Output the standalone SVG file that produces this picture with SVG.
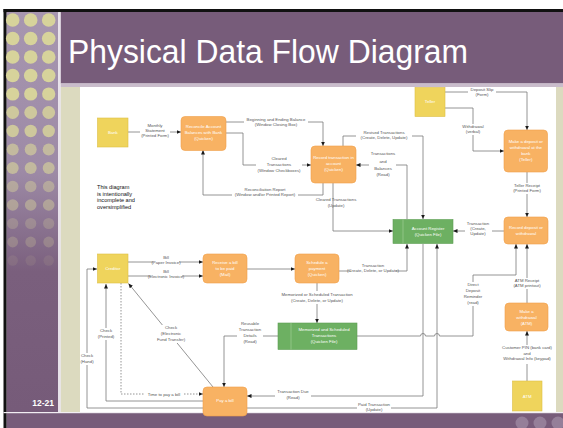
<svg xmlns="http://www.w3.org/2000/svg" width="563" height="428" viewBox="0 0 563 428">
<defs>
<linearGradient id="sb" x1="0" y1="12" x2="0" y2="412" gradientUnits="userSpaceOnUse">
<stop offset="0" stop-color="#a796b0"/>
<stop offset="0.4" stop-color="#9d8aa6"/>
<stop offset="0.65" stop-color="#7a5f7d"/>
<stop offset="1" stop-color="#765b79"/>
</linearGradient>
<marker id="a" viewBox="0 0 10 10" refX="10" refY="5" markerWidth="4.5" markerHeight="4.5" markerUnits="userSpaceOnUse" orient="auto">
<path d="M0,0.5 L10,5 L0,9.5 z" fill="#1a1a1a"/>
</marker>
<style>
.ln{fill:none;stroke:#7a7a7a;stroke-width:0.8}
.dl{fill:none;stroke:#7a7a7a;stroke-width:0.8;stroke-dasharray:1.5 1.5}
.lb{font-family:"Liberation Sans",Arial,sans-serif;font-size:4.3px;fill:#555;text-anchor:middle}
.nt{font-family:"Liberation Sans",Arial,sans-serif;font-size:4.3px;fill:#fff;text-anchor:middle}
.pr{fill:#f8b263;stroke:#f0a04a;stroke-width:0.6}
.ext{fill:#efd45c;stroke:#dcbf45;stroke-width:0.6}
.st{fill:#6db062;stroke:#5e9e54;stroke-width:0.6}
.bg{fill:#fff}
.dot{fill:#d7d39b}
</style>
</defs>

<!-- slide frame -->
<rect x="0" y="0" width="563" height="428" fill="#fff"/>
<rect x="3.5" y="9" width="560" height="3.2" fill="#111"/>
<rect x="3.5" y="9" width="3.2" height="419" fill="#111"/>
<rect x="6.7" y="12" width="51.5" height="401" fill="url(#sb)"/>
<g id="sidebar-dots">
<g opacity="1">
<circle class="dot" cx="12.7" cy="20" r="6.8"/><circle class="dot" cx="30.7" cy="20" r="6.8"/><circle class="dot" cx="48.7" cy="20" r="6.8"/>
<circle class="dot" cx="12.7" cy="38.5" r="6.8"/><circle class="dot" cx="30.7" cy="38.5" r="6.8"/><circle class="dot" cx="48.7" cy="38.5" r="6.8"/>
<circle class="dot" cx="12.7" cy="57" r="6.8"/><circle class="dot" cx="30.7" cy="57" r="6.8"/><circle class="dot" cx="48.7" cy="57" r="6.8"/>
<circle class="dot" cx="12.7" cy="75.5" r="6.8"/><circle class="dot" cx="30.7" cy="75.5" r="6.8"/><circle class="dot" cx="48.7" cy="75.5" r="6.8"/>
<circle class="dot" cx="12.7" cy="94" r="6.6"/><circle class="dot" cx="30.7" cy="94" r="6.6"/><circle class="dot" cx="48.7" cy="94" r="6.6"/>
</g>
<g opacity="0.85">
<circle class="dot" cx="12.7" cy="112.5" r="6.4"/><circle class="dot" cx="30.7" cy="112.5" r="6.4"/><circle class="dot" cx="48.7" cy="112.5" r="6.4"/>
<circle class="dot" cx="12.7" cy="131" r="6.2"/><circle class="dot" cx="30.7" cy="131" r="6.2"/><circle class="dot" cx="48.7" cy="131" r="6.2"/>
</g>
<g opacity="0.65">
<circle class="dot" cx="12.7" cy="149.5" r="6"/><circle class="dot" cx="30.7" cy="149.5" r="6"/><circle class="dot" cx="48.7" cy="149.5" r="6"/>
<circle class="dot" cx="12.7" cy="168" r="6"/><circle class="dot" cx="30.7" cy="168" r="6"/><circle class="dot" cx="48.7" cy="168" r="6"/>
</g>
<g opacity="0.45">
<circle class="dot" cx="12.7" cy="186.5" r="5.8"/><circle class="dot" cx="30.7" cy="186.5" r="5.8"/><circle class="dot" cx="48.7" cy="186.5" r="5.8"/>
<circle class="dot" cx="12.7" cy="205" r="5.8"/><circle class="dot" cx="30.7" cy="205" r="5.8"/><circle class="dot" cx="48.7" cy="205" r="5.8"/>
</g>
<g opacity="0.25">
<circle class="dot" cx="12.7" cy="223.5" r="5.6"/><circle class="dot" cx="30.7" cy="223.5" r="5.6"/><circle class="dot" cx="48.7" cy="223.5" r="5.6"/>
<circle class="dot" cx="12.7" cy="242" r="5.4"/><circle class="dot" cx="30.7" cy="242" r="5.4"/><circle class="dot" cx="48.7" cy="242" r="5.4"/>
</g>
<g opacity="0.1">
<circle class="dot" cx="12.7" cy="260.5" r="5.2"/><circle class="dot" cx="30.7" cy="260.5" r="5.2"/><circle class="dot" cx="48.7" cy="260.5" r="5.2"/>
</g>
</g>
<rect x="58.2" y="12" width="2.6" height="401" fill="#e8e2ea"/>
<rect x="60.8" y="12" width="502.2" height="71.5" fill="#775c7a"/>
<rect x="60.8" y="83.5" width="502.2" height="3.5" fill="#c9bccb"/>
<rect x="60.8" y="87" width="502.2" height="325" fill="#dcdabf"/>
<rect x="80" y="87" width="476" height="325" fill="#fff"/>
<rect x="3.5" y="412" width="559.5" height="1.2" fill="#f2eef3"/>
<rect x="6.7" y="413.2" width="556.3" height="14.8" fill="#775c7a"/>
<g fill="#957f99">
<circle cx="522" cy="423" r="6.5"/><circle cx="540" cy="423" r="6.5"/><circle cx="558" cy="423" r="6.5"/>
</g>
<text x="68" y="63" font-family="Liberation Sans, Arial, sans-serif" font-size="34" fill="#fff" textLength="400" lengthAdjust="spacingAndGlyphs">Physical Data Flow Diagram</text>
<text x="54" y="406" font-family="Liberation Sans, Arial, sans-serif" font-size="8.5" font-weight="bold" fill="#fff" text-anchor="end">12-21</text>

<!-- connectors -->
<g id="connectors">
<path class="ln" d="M128,132 H181" marker-end="url(#a)"/>
<path class="ln" d="M226,122 H323 V146" marker-end="url(#a)"/>
<path class="ln" d="M226,133 H243 V165 H311" marker-end="url(#a)"/>
<path class="ln" d="M323,183 V195 H203 V150" marker-end="url(#a)"/>
<path class="ln" d="M343,146 V136 H423 V219" marker-end="url(#a)"/>
<path class="ln" d="M407,219 V165 H356" marker-end="url(#a)"/>
<path class="ln" d="M333,183 V231 H393" marker-end="url(#a)"/>
<path class="ln" d="M445,92 H527 V130" marker-end="url(#a)"/>
<path class="ln" d="M445,108 H473 V151 H504" marker-end="url(#a)"/>
<path class="ln" d="M527,172 V217" marker-end="url(#a)"/>
<path class="ln" d="M504,231 H453" marker-end="url(#a)"/>
<path class="ln" d="M527,303 V244" marker-end="url(#a)"/>
<path class="ln" d="M527,381 V331" marker-end="url(#a)"/>
<path class="ln" d="M357,336 H420.5 A2.5,2.5 0 0 1 425.5,336 H434.5 A2.5,2.5 0 0 1 439.5,336 H473 V275 H516 V244" marker-end="url(#a)"/>
<path class="ln" d="M128,262 H203" marker-end="url(#a)"/>
<path class="ln" d="M128,276 H203" marker-end="url(#a)"/>
<path class="ln" d="M247,269 H295" marker-end="url(#a)"/>
<path class="ln" d="M339,271 H407 V244" marker-end="url(#a)"/>
<path class="ln" d="M317,283 V323" marker-end="url(#a)"/>
<path class="ln" d="M278,336 H224 V387" marker-end="url(#a)"/>
<path class="ln" d="M423,244 V396 H247" marker-end="url(#a)"/>
<path class="ln" d="M247,408 H437 V244" marker-end="url(#a)"/>
<path class="ln" d="M213,387 L128.5,283.5" marker-end="url(#a)"/>
<path class="ln" d="M203,401 H106 V284" marker-end="url(#a)"/>
<path class="ln" d="M203,408 H87 V269 H97" marker-end="url(#a)"/>
<path class="dl" d="M121,283 V394 H203" marker-end="url(#a)"/>
</g>

<!-- connector labels -->
<g id="labels">
<rect class="bg" x="140" y="123" width="30" height="16"/>
<text class="lb" x="155" y="127">Monthly</text>
<text class="lb" x="155" y="132">Statement</text>
<text class="lb" x="155" y="137">(Printed Form)</text>
<rect class="bg" x="244" y="116" width="64" height="11"/>
<text class="lb" x="276" y="120.5">Beginning and Ending Balance</text>
<text class="lb" x="276" y="125.5">(Window Closing Box)</text>
<rect class="bg" x="256" y="156" width="46" height="17"/>
<text class="lb" x="279" y="160">Cleared</text>
<text class="lb" x="279" y="166">Transactions</text>
<text class="lb" x="279" y="172">(Window Checkboxes)</text>
<rect class="bg" x="232" y="187" width="66" height="11"/>
<text class="lb" x="265" y="191">Reconciliation Report</text>
<text class="lb" x="265" y="196">(Window and/or Printed Report)</text>
<rect class="bg" x="356" y="129" width="56" height="11"/>
<text class="lb" x="384" y="133.5">Revised Transactions</text>
<text class="lb" x="384" y="138.5">(Create, Delete, Update)</text>
<rect class="bg" x="369" y="151" width="27" height="28"/>
<text class="lb" x="383" y="155">Transactions</text>
<text class="lb" x="383" y="163">and</text>
<text class="lb" x="383" y="170">Balances</text>
<text class="lb" x="383" y="176">(Read)</text>
<text class="lb" x="336" y="201">Cleared Transactions</text>
<text class="lb" x="336" y="206.5">(Update)</text>
<rect class="bg" x="468" y="87.5" width="28" height="10"/>
<text class="lb" x="482" y="91">Deposit Slip</text>
<text class="lb" x="482" y="96">(Form)</text>
<rect class="bg" x="461" y="124" width="24" height="11"/>
<text class="lb" x="473" y="128">Withdrawal</text>
<text class="lb" x="473" y="133">(verbal)</text>
<rect class="bg" x="512" y="183" width="30" height="11"/>
<text class="lb" x="527" y="187">Teller Receipt</text>
<text class="lb" x="527" y="192">(Printed Form)</text>
<rect class="bg" x="465" y="221" width="27" height="16"/>
<text class="lb" x="478" y="225">Transaction</text>
<text class="lb" x="478" y="230">(Create,</text>
<text class="lb" x="478" y="235">Update)</text>
<rect class="bg" x="512" y="278" width="30" height="11"/>
<text class="lb" x="527" y="282">ATM Receipt</text>
<text class="lb" x="527" y="287">(ATM printout)</text>
<rect class="bg" x="463" y="282" width="21" height="24"/>
<text class="lb" x="473" y="286">Direct</text>
<text class="lb" x="473" y="292">Deposit</text>
<text class="lb" x="473" y="298">Reminder</text>
<text class="lb" x="473" y="304">(read)</text>
<rect class="bg" x="499" y="345" width="56" height="19"/>
<text class="lb" x="527" y="349">Customer PIN (bank card)</text>
<text class="lb" x="527" y="354.5">and</text>
<text class="lb" x="527" y="360">Withdrawal Info (keypad)</text>
<rect class="bg" x="153" y="255" width="26" height="10"/>
<text class="lb" x="166" y="258.5">Bill</text>
<text class="lb" x="166" y="263.5">(Paper Invoice)</text>
<rect class="bg" x="150" y="269" width="32" height="10"/>
<text class="lb" x="166" y="272.5">Bill</text>
<text class="lb" x="166" y="277.5">(Electronic Invoice)</text>
<rect class="bg" x="351" y="263" width="45" height="11"/>
<text class="lb" x="373" y="267">Transaction</text>
<text class="lb" x="373" y="272">(Create, Delete, or Update)</text>
<rect class="bg" x="276" y="291" width="82" height="13"/>
<text class="lb" x="317" y="295.5">Memorized or Scheduled Transaction</text>
<text class="lb" x="317" y="301.5">(Create, Delete, or Update)</text>
<rect class="bg" x="237" y="321" width="26" height="25"/>
<text class="lb" x="250" y="325">Reusable</text>
<text class="lb" x="250" y="331">Transaction</text>
<text class="lb" x="250" y="337">Details</text>
<text class="lb" x="250" y="343">(Read)</text>
<rect class="bg" x="98" y="328" width="17" height="12"/>
<text class="lb" x="106" y="332">Check</text>
<text class="lb" x="106" y="338">(Printed)</text>
<rect class="bg" x="80.5" y="353" width="13" height="12"/>
<text class="lb" x="87" y="357">Check</text>
<text class="lb" x="87" y="363">(Hand)</text>
<rect class="bg" x="156" y="325" width="31" height="18"/>
<text class="lb" x="171" y="329">Check</text>
<text class="lb" x="171" y="335">(Electronic</text>
<text class="lb" x="171" y="341">Fund Transfer)</text>
<rect class="bg" x="145" y="391" width="38" height="6"/>
<text class="lb" x="164" y="395.5">Time to pay a bill</text>
<rect class="bg" x="275" y="389" width="36" height="11"/>
<text class="lb" x="293" y="393">Transaction Due</text>
<text class="lb" x="293" y="398.5">(Read)</text>
<rect class="bg" x="357" y="402" width="34" height="10"/>
<text class="lb" x="374" y="406">Paid Transaction</text>
<text class="lb" x="374" y="411">(Update)</text>
</g>

<text x="97" y="189" font-family="Liberation Sans, Arial, sans-serif" font-size="5.6" fill="#111">This diagram</text>
<text x="97" y="195.5" font-family="Liberation Sans, Arial, sans-serif" font-size="5.6" fill="#111">is intentionally</text>
<text x="97" y="202" font-family="Liberation Sans, Arial, sans-serif" font-size="5.6" fill="#111">incomplete and</text>
<text x="97" y="208.5" font-family="Liberation Sans, Arial, sans-serif" font-size="5.6" fill="#111">oversimplified</text>

<!-- nodes -->
<g id="bank"><rect class="ext" x="97.5" y="118" width="30.5" height="29"/><text class="nt" x="112.8" y="134">Bank</text></g>
<g id="reconcile"><rect class="pr" x="181" y="116.5" width="45" height="34" rx="4"/><text class="nt" x="203.5" y="128">Reconcile Account</text><text class="nt" x="203.5" y="134">Balances with Bank</text><text class="nt" x="203.5" y="140">(Quicken)</text></g>
<g id="maintain"><rect class="pr" x="311" y="146" width="45" height="37" rx="4"/><text class="nt" x="333.5" y="159">Record transaction in</text><text class="nt" x="333.5" y="165">account</text><text class="nt" x="333.5" y="171">(Quicken)</text></g>
<g id="teller"><rect class="ext" x="415" y="87.5" width="30" height="29"/><text class="nt" x="430" y="103">Teller</text></g>
<g id="deposit"><rect class="pr" x="504" y="130" width="43.5" height="42" rx="4"/><text class="nt" x="525.8" y="143">Make a deposit or</text><text class="nt" x="525.8" y="149">withdrawal at the</text><text class="nt" x="525.8" y="155">bank</text><text class="nt" x="525.8" y="161">(Teller)</text></g>
<g id="record"><rect class="pr" x="504" y="217" width="44" height="27" rx="4"/><text class="nt" x="526" y="229">Record deposit or</text><text class="nt" x="526" y="235">withdrawal</text></g>
<g id="register"><rect class="st" x="393" y="219.5" width="60" height="24"/><line x1="403" y1="219.5" x2="403" y2="243.5" stroke="#a8d39e" stroke-width="0.6"/><text class="nt" x="428" y="230">Account Register</text><text class="nt" x="428" y="236">(Quicken File)</text></g>
<g id="atm-process"><rect class="pr" x="505" y="303" width="43" height="28" rx="4"/><text class="nt" x="526.5" y="313">Make a</text><text class="nt" x="526.5" y="319">withdrawal</text><text class="nt" x="526.5" y="325">(ATM)</text></g>
<g id="atm"><rect class="ext" x="512.5" y="381" width="29.5" height="30"/><text class="nt" x="527.2" y="397.5">ATM</text></g>
<g id="creditor"><rect class="ext" x="97.5" y="254" width="30.5" height="29"/><text class="nt" x="112.8" y="270">Creditor</text></g>
<g id="receive-bill"><rect class="pr" x="203" y="254" width="44" height="29" rx="4"/><text class="nt" x="225" y="264">Receive a bill</text><text class="nt" x="225" y="270">to be paid</text><text class="nt" x="225" y="276">(Mail)</text></g>
<g id="schedule"><rect class="pr" x="295" y="254" width="44" height="29" rx="4"/><text class="nt" x="317" y="264">Schedule a</text><text class="nt" x="317" y="270">payment</text><text class="nt" x="317" y="276">(Quicken)</text></g>
<g id="memorized"><rect class="st" x="278" y="323" width="79" height="26.5"/><line x1="291" y1="323" x2="291" y2="349.5" stroke="#a8d39e" stroke-width="0.6"/><text class="nt" x="324" y="331">Memorized and Scheduled</text><text class="nt" x="324" y="337">Transactions</text><text class="nt" x="324" y="343">(Quicken File)</text></g>
<g id="pay-bill"><rect class="pr" x="203" y="387" width="44" height="29" rx="4"/><text class="nt" x="225" y="402">Pay a bill</text></g>
</svg>
